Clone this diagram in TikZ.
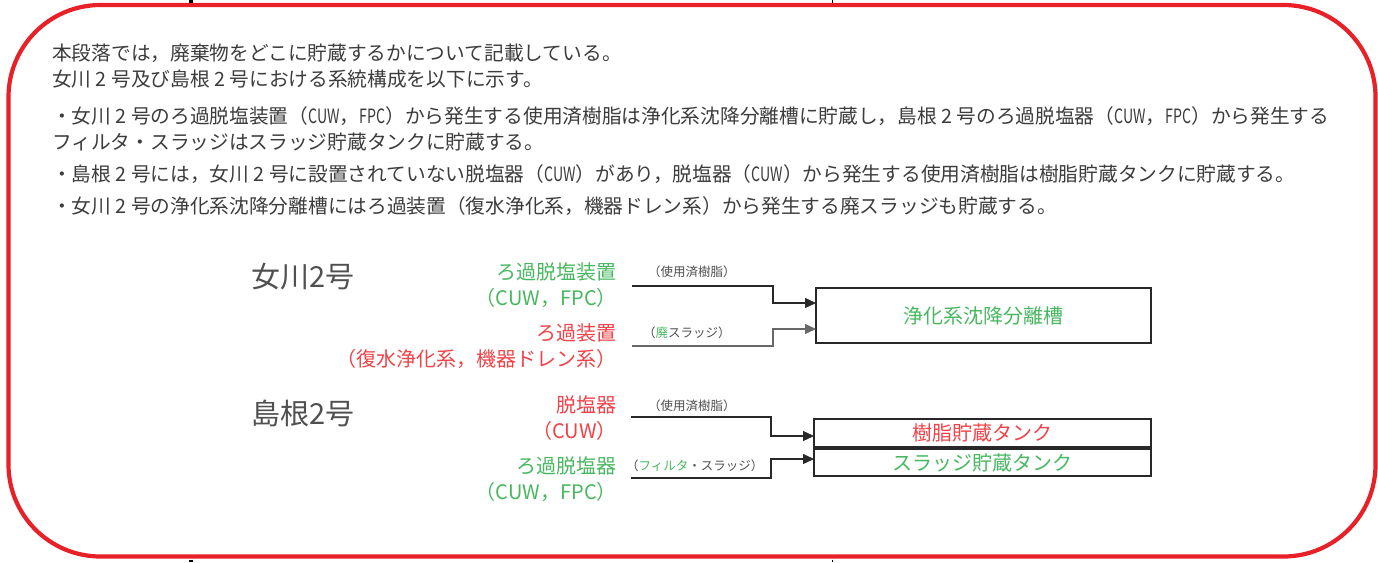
\documentclass[tikz,border=0pt]{standalone}
\usepackage{fontspec}
\setmainfont{Noto Sans CJK JP}
\usetikzlibrary{arrows.meta}
\definecolor{frame}{RGB}{232,32,40}
\definecolor{gtxt}{RGB}{72,184,96}
\definecolor{rtxt}{RGB}{240,66,72}
\definecolor{body}{RGB}{60,60,60}
\definecolor{note}{RGB}{80,80,80}
\definecolor{edge}{RGB}{40,40,40}
\newcommand{\latn}[1]{\scalebox{0.72}[1]{#1}}
\tikzset{
  para/.style={anchor=west, inner sep=0pt, text=body, font=\fontsize{19.7}{24}\selectfont},
  title/.style={anchor=west, inner sep=0pt, text=note, font=\fontsize{29}{34}\selectfont},
  src/.style={anchor=east, inner sep=0pt, align=right, font=\fontsize{20}{26}\selectfont},
  lbl/.style={anchor=west, inner sep=0pt, text=note, font=\fontsize{12.5}{15}\selectfont},
  tank/.style={draw=edge, line width=1.8pt, inner sep=0pt, font=\fontsize{20}{24}\selectfont},
  conn/.style={draw=edge, line width=1.2pt, -{Triangle[length=11pt,width=10pt]}},
  tick/.style={draw=black}
}
\begin{document}
\begin{tikzpicture}[x=1pt,y=-1pt]
\useasboundingbox (0,0) rectangle (1378,562);
\fill[white] (0,0) rectangle (1378,562);
% page artefacts
\draw[tick, line width=4.5pt] (191,0) -- (191,2.5);
\draw[tick, line width=0.8pt] (832,0) -- (832,2.5);
\draw[tick, line width=4.5pt] (191,559.5) -- (191,562);
\draw[tick, line width=0.8pt] (832,559.5) -- (832,562);
% frame
\draw[frame, line width=4.2pt, rounded corners=92pt] (8.5,5) rectangle (1375.5,556.5);
% paragraph
\node[para] (p1) at (52,53) {本段落では，廃棄物をどこに貯蔵するかについて記載している。};
\node[para] (p2) at (52,79) {女川 2 号及び島根 2 号における系統構成を以下に示す。};
\node[para] (p3) at (52,116) {・女川 2 号のろ過脱塩装置（\latn{CUW}，\latn{FPC}）から発生する使用済樹脂は浄化系沈降分離槽に貯蔵し，島根 2 号のろ過脱塩器（\latn{CUW}，\latn{FPC}）から発生する};
\node[para] (p4) at (52,142) {フィルタ・スラッジはスラッジ貯蔵タンクに貯蔵する。};
\node[para] (p5) at (52,174) {・島根 2 号には，女川 2 号に設置されていない脱塩器（\latn{CUW}）があり，脱塩器（\latn{CUW}）から発生する使用済樹脂は樹脂貯蔵タンクに貯蔵する。};
\node[para] (p6) at (52,206) {・女川 2 号の浄化系沈降分離槽にはろ過装置（復水浄化系，機器ドレン系）から発生する廃スラッジも貯蔵する。};
% titles
\node[title] (t1) at (251,277) {女川2号};
\node[title] (t2) at (251,413) {島根2号};
% sources
\node[src, text=gtxt] (s1) at (617,285) {ろ過脱塩装置\\（CUW，FPC）};
\node[src, text=rtxt] (s2) at (617,346) {ろ過装置\\（復水浄化系，機器ドレン系）};
\node[src, text=rtxt] (s3) at (617,418) {脱塩器\\（CUW）};
\node[src, text=gtxt] (s4) at (617,479) {ろ過脱塩器\\（CUW，FPC）};
% tanks
\node[tank, minimum width=335pt, minimum height=55pt, text=gtxt] (b1) at (983.5,315.5) {浄化系沈降分離槽};
\node[tank, minimum width=337pt, minimum height=28pt, text=rtxt] (b2) at (982.5,433) {樹脂貯蔵タンク};
\node[tank, minimum width=337pt, minimum height=27pt, text=gtxt] (b3) at (982.5,462.5) {スラッジ貯蔵タンク};
% flow labels
\node[lbl] (l1) at (648,272) {（使用済樹脂）};
\node[lbl] (l2) at (643,333) {（{\color{gtxt}廃}スラッジ）};
\node[lbl] (l3) at (648,406) {（使用済樹脂）};
\node[lbl] (l4) at (626,466) {（{\color{gtxt}フィルタ}・スラッジ）};
% connector ends
\coordinate (c1) at (632,286);
\coordinate (c2) at (632,346);
\coordinate (c3) at (631,417);
\coordinate (c4) at (631,478);
\coordinate (e1) at (816,303);
\coordinate (e2) at (816,329);
\coordinate (e3) at (814,436);
\coordinate (e4) at (814,459);
\draw[conn] (c1) -- (773,286) |- (e1);
\draw[conn, draw=edge!70] (c2) -- (773,346) |- (e2);
\draw[conn] (c3) -- (771,417) |- (e3);
\draw[conn] (c4) -- (771,478) |- (e4);
\end{tikzpicture}
\end{document}
